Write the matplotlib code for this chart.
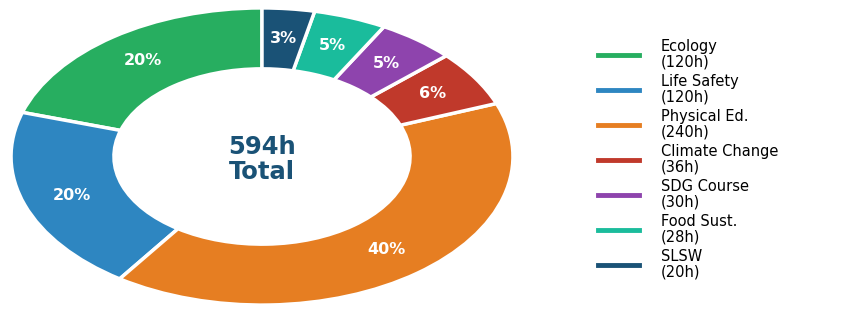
import matplotlib
matplotlib.use("Agg")
import matplotlib.pyplot as plt
from matplotlib.lines import Line2D

plt.rcParams["font.family"] = ["DejaVu Sans"]

# course hours
courses = ["Ecology", "Life Safety", "Physical Ed.", "Climate Change", "SDG Course", "Food Sust.", "SLSW"]
hours = [120, 120, 240, 36, 30, 28, 20]
colors = ["#27ae60", "#2e86c1", "#e67e22", "#c0392b", "#8e44ad", "#1abc9c", "#1a5276"]
center_text = f"{sum(hours)}h\nTotal"

fig = plt.figure(figsize=(8.44, 3.09), dpi=100)

# donut axes, stretched (not equal aspect) like the reference
ax = fig.add_axes([-1.5 / 844, -3.5 / 309, 527 / 844, 312 / 309])
wedges, texts, autotexts = ax.pie(
    hours,
    colors=colors,
    startangle=90,
    counterclock=True,
    autopct="%1.0f%%",
    pctdistance=0.8,
    wedgeprops=dict(width=0.41, edgecolor="white", linewidth=2.5),
    textprops=dict(color="white", fontsize=11.5, fontweight="bold"),
)
ax.set_aspect("auto")
ax.set_xlim(-1.05, 1.05)
ax.set_ylim(-1.05, 1.05)
ax.axis("off")

ax.text(0, -0.02, center_text, ha="center", va="center", fontsize=17.5,
        fontweight="bold", color="#1a5276", linespacing=1.1)

# legend with line handles
handles = [Line2D([0], [0], color=c, lw=3.5) for c in colors]
labels = [f"{name}\n({h}h)" for name, h in zip(courses, hours)]
leg = fig.legend(handles, labels, loc="center left",
                 bbox_to_anchor=(598 / 844, 0.485), bbox_transform=fig.transFigure,
                 frameon=False, fontsize=10.5, handlelength=2.8, handletextpad=1.5,
                 labelspacing=0.34, borderpad=0, borderaxespad=0)
for t in leg.get_texts():
    t.set_linespacing(1.0)

fig.savefig("out.png", dpi=100)
plt.close(fig)
